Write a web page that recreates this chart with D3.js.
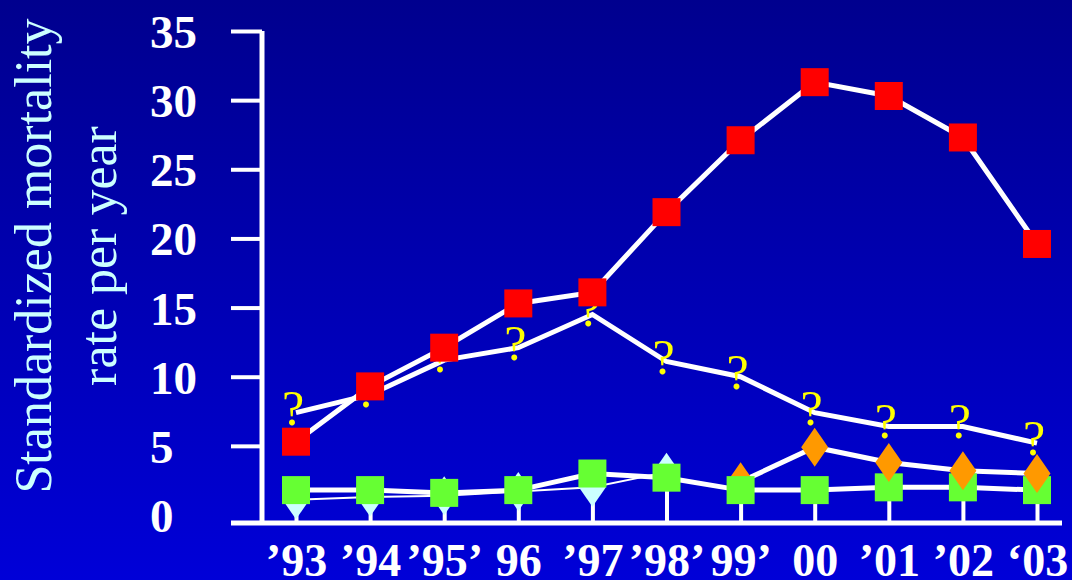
<!DOCTYPE html>
<html>
<head>
<meta charset="utf-8">
<script src="https://cdn.jsdelivr.net/npm/d3@7"></script>
<style>
  html, body { margin: 0; padding: 0; background: #0000b0; }
  svg { display: block; }
</style>
</head>
<body>
<svg id="chart" width="1072" height="580"></svg>
<script>
// Years on the horizontal axis and the labels printed under them
const years = ["1993", "1994", "1995", "1996", "1997", "1998", "1999", "2000", "2001", "2002", "2003"];
const yearLabels = ["’93", "’94", "’95’", "96", "’97", "’98’", "99’", "00", "’01", "’02", "‘03"];

// Standardized mortality rate per year, one array per group
const redSquares = [5.3, 9.3, 12.1, 15.3, 16.1, 21.9, 27.1, 31.3, 30.3, 27.3, 19.6];
const questionMarks = [7.4, 8.7, 11.2, 12.1, 14.5, 11.1, 10.0, 7.4, 6.4, 6.4, 5.2];
const greenSquares = [1.8, 1.8, 1.6, 1.8, 3.0, 2.7, 1.8, 1.8, 2.0, 2.0, 1.8];
const cyanDiamonds = [1.1, 1.3, 1.4, 1.7, 2.0, 3.1, null, null, null, null, null];
const orangeDiamonds = [null, null, null, null, null, null, 2.4, 4.9, 3.8, 3.2, 3.0];

const yTicks = [0, 5, 10, 15, 20, 25, 30, 35];

const svg = d3.select("#chart");
const W = 1072, H = 580;
const serif = "'Liberation Serif', 'Times New Roman', serif";

// Background gradient, dark navy at the top to brighter blue at the bottom
const defs = svg.append("defs");
const grad = defs.append("linearGradient").attr("id", "bg").attr("x1", 0).attr("y1", 0).attr("x2", 0).attr("y2", 1);
grad.append("stop").attr("offset", 0).attr("stop-color", "#00008e");
grad.append("stop").attr("offset", 1).attr("stop-color", "#0000d8");
svg.append("rect").attr("width", W).attr("height", H).attr("fill", "url(#bg)");

// Scales
const x = d3.scalePoint().domain(years).range([296, 1037]);
const y = d3.scaleLinear().domain([0, 35]).range([515, 31]);

const axisX = 262;          // position of the vertical axis
const baseY = 523;          // position of the horizontal axis line

// Vertical axis: tick marks and labels
const yAxis = svg.append("g")
  .attr("transform", `translate(${axisX},0)`)
  .call(d3.axisLeft(y).tickValues(yTicks).tickSize(31).tickFormat(d3.format("d")));
yAxis.select(".domain").remove();
yAxis.selectAll(".tick line")
  .attr("stroke", "#ffffff").attr("stroke-width", 4)
  .filter(d => d === 0).remove();
yAxis.selectAll(".tick text")
  .attr("x", 150 - axisX)
  .attr("text-anchor", "start")
  .attr("dy", "0.35em")
  .attr("fill", "#ffffff")
  .style("font-family", serif)
  .style("font-weight", "bold")
  .style("font-size", "47px");

svg.append("line")
  .attr("x1", axisX).attr("x2", axisX)
  .attr("y1", y(35)).attr("y2", baseY + 2)
  .attr("stroke", "#ffffff").attr("stroke-width", 5);

// Horizontal axis: baseline, upward tick marks, year labels
svg.append("line")
  .attr("x1", 231).attr("x2", 1062)
  .attr("y1", baseY).attr("y2", baseY)
  .attr("stroke", "#ffffff").attr("stroke-width", 5);

const xAxis = svg.append("g")
  .attr("transform", `translate(0,${baseY})`)
  .call(d3.axisBottom(x).tickSize(-33).tickFormat((d, i) => yearLabels[i]));
xAxis.select(".domain").remove();
xAxis.selectAll(".tick line").attr("stroke", "#ffffff").attr("stroke-width", 4);
xAxis.selectAll(".tick text")
  .attr("y", 53)
  .attr("dy", 0)
  .attr("fill", "#ffffff")
  .style("font-family", serif)
  .style("font-weight", "bold")
  .style("font-size", "46px");

// Vertical axis title, two lines
const titleLines = ["Standardized mortality", "rate per year"];
const titleX = [51, 116];
titleLines.forEach((t, i) => {
  svg.append("text")
    .attr("transform", `translate(${titleX[i]},256) rotate(-90)`)
    .attr("text-anchor", "middle")
    .attr("fill", "#ccffff")
    .style("font-family", serif)
    .style("font-size", "52px")
    .text(t);
});

// Connecting lines
const lineGen = d3.line()
  .defined(d => d.v != null)
  .x(d => x(d.k))
  .y(d => y(d.v));
const pts = arr => years.map((k, i) => ({ k, v: arr[i], i }));

function drawLine(arr, width) {
  svg.append("path")
    .datum(pts(arr))
    .attr("d", lineGen)
    .attr("fill", "none")
    .attr("stroke", "#ffffff")
    .attr("stroke-width", width)
    .attr("stroke-linejoin", "miter");
}
drawLine(questionMarks, 5);
drawLine(redSquares, 5);
drawLine(cyanDiamonds, 2);
drawLine(greenSquares, 5);
drawLine(orangeDiamonds, 5);

// Markers
const sq = 28;
function drawSquares(arr, color) {
  svg.append("g").selectAll("rect")
    .data(pts(arr).filter(d => d.v != null))
    .join("rect")
    .attr("x", d => x(d.k) - sq / 2)
    .attr("y", d => y(d.v) - sq / 2)
    .attr("width", sq).attr("height", sq)
    .attr("fill", color);
}
function drawDiamonds(data, color) {
  const hw = 13.5, hh = 19.5;
  svg.append("g").selectAll("path")
    .data(data)
    .join("path")
    .attr("d", d => {
      const cx = x(d.k), cy = y(d.v);
      return `M${cx},${cy - hh}L${cx + hw},${cy}L${cx},${cy + hh}L${cx - hw},${cy}Z`;
    })
    .attr("fill", color);
}

// Orange diamonds close to the green squares sit behind them; higher ones sit in front
const orangePts = pts(orangeDiamonds).filter(d => d.v != null);
const inFront = d => d.v - greenSquares[d.i] > 1;

drawDiamonds(pts(cyanDiamonds).filter(d => d.v != null), "#ccffff");
drawDiamonds(orangePts.filter(d => !inFront(d)), "#ff9900");
drawSquares(greenSquares, "#66ff33");
drawDiamonds(orangePts.filter(inFront), "#ff9900");

// Question-mark markers
svg.append("g").selectAll("text")
  .data(pts(questionMarks))
  .join("text")
  .attr("x", d => x(d.k) - 3)
  .attr("y", d => y(d.v))
  .attr("dy", 12)
  .attr("text-anchor", "middle")
  .attr("fill", "#ffff00")
  .style("font-family", serif)
  .style("font-size", "50px")
  .text("?");

drawSquares(redSquares, "#ff0000");
</script>
</body>
</html>
